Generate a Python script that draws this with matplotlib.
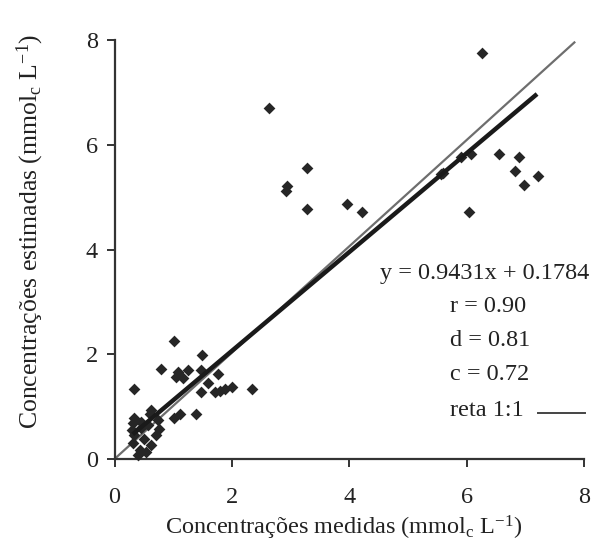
import matplotlib
matplotlib.use("Agg")
import matplotlib.pyplot as plt
import numpy as np

plt.rcParams['font.family'] = ['Liberation Serif', 'DejaVu Serif']
plt.rcParams['mathtext.fontset'] = 'custom'
plt.rcParams['mathtext.rm'] = 'Liberation Serif'
plt.rcParams['mathtext.it'] = 'Liberation Serif:italic'

# measured (x) vs estimated (y)
measured = [
    # high group
    6.26, 5.57, 5.91, 6.08, 6.56, 6.90, 6.82, 6.97, 7.21, 6.04, 5.59,
    # middle group
    2.63, 3.28, 2.94, 2.92, 3.28, 3.96, 4.21,
    # low group
    1.02, 1.49, 0.80, 1.08, 1.25, 1.48, 1.76, 1.05, 1.17, 1.59, 0.34,
    1.48, 1.71, 1.88, 2.00, 1.80, 2.35, 1.11, 1.02, 1.39,
    # cluster near origin
    0.63, 0.34, 0.32, 0.46, 0.74, 0.57, 0.71, 0.34, 0.51, 0.31, 0.63,
    0.43, 0.40, 0.54, 0.30, 0.75, 0.60, 0.45,
]
estimated = [
    7.76, 5.45, 5.77, 5.83, 5.83, 5.77, 5.50, 5.24, 5.40, 4.71, 5.46,
    6.70, 5.55, 5.21, 5.12, 4.77, 4.87, 4.71,
    2.25, 1.98, 1.72, 1.67, 1.70, 1.70, 1.62, 1.57, 1.55, 1.46, 1.34,
    1.27, 1.27, 1.34, 1.37, 1.30, 1.34, 0.85, 0.79, 0.86,
    0.94, 0.78, 0.68, 0.71, 0.74, 0.65, 0.46, 0.46, 0.39, 0.30, 0.27,
    0.17, 0.08, 0.14, 0.55, 0.57, 0.85, 0.60,
]

slope, intercept = 0.9431, 0.1784
fit_x = [0.31, 7.2]
one_to_one = [0.0, 7.85]

ticks = [0, 2, 4, 6, 8]
stats_lines = ["r = 0.90", "d = 0.81", "c = 0.72"]

FS = 17.5
W, H = 593, 551
fig = plt.figure(figsize=(W / 100, H / 100), dpi=100)
ax = fig.add_axes([114.5 / W, 1 - 459 / H, (584 - 114.5) / W, (459 - 40) / H])

ax.plot(one_to_one, [one_to_one[0], one_to_one[1] * 1.015], color='#6e6e6e', lw=1.6,
        zorder=2, solid_capstyle='butt')
ax.scatter(measured, estimated, marker='D', s=36, color='#262626', zorder=3,
           clip_on=False, linewidths=0)
ax.plot(fit_x, [slope * v + intercept for v in fit_x], color='#1a1a1a', lw=3.2,
        zorder=4, solid_capstyle='butt')

ax.set_xlim(0, 8)
ax.set_ylim(0, 8)
ax.set_xticks(ticks)
ax.set_yticks(ticks)
ax.set_xticklabels([str(t) for t in ticks])
ax.set_yticklabels([str(t) for t in ticks])
for s in ['top', 'right']:
    ax.spines[s].set_visible(False)
for s in ['left', 'bottom']:
    ax.spines[s].set_color('#333333')
    ax.spines[s].set_linewidth(1.6)
ax.tick_params(direction='out', length=6, width=1.4, color='#333333',
               labelsize=FS, labelcolor='#222222')
ax.tick_params(axis='x', pad=14)
ax.tick_params(axis='y', pad=6)

fig.text(344 / W, 1 - 528 / H, r"Concentrações medidas (mmol$\mathregular{_c}$ L$\mathregular{^{-1}}$)",
         ha='center', va='center', fontsize=FS, color='#222222')
fig.text(30 / W, 1 - 232 / H, r"Concentrações estimadas (mmol$\mathregular{_c}$ L$\mathregular{^{-1}}$)",
         ha='center', va='center', rotation=90, fontsize=18.5, color='#222222')

fig.text(485 / W, 1 - 274 / H, "y = 0.9431x + 0.1784", ha='center', va='center',
         fontsize=FS, color='#222222')
for i, t in enumerate(stats_lines):
    fig.text(450 / W, 1 - (307 + 33.5 * i) / H, t, ha='left', va='center',
             fontsize=FS, color='#222222')
fig.text(450 / W, 1 - 410 / H, "reta 1:1", ha='left', va='center',
         fontsize=FS, color='#222222')
fig.add_artist(plt.Line2D([538 / W, 585 / W], [1 - 413 / H, 1 - 413 / H],
                          color='#444444', lw=1.4))

fig.savefig("out.png", dpi=100)
